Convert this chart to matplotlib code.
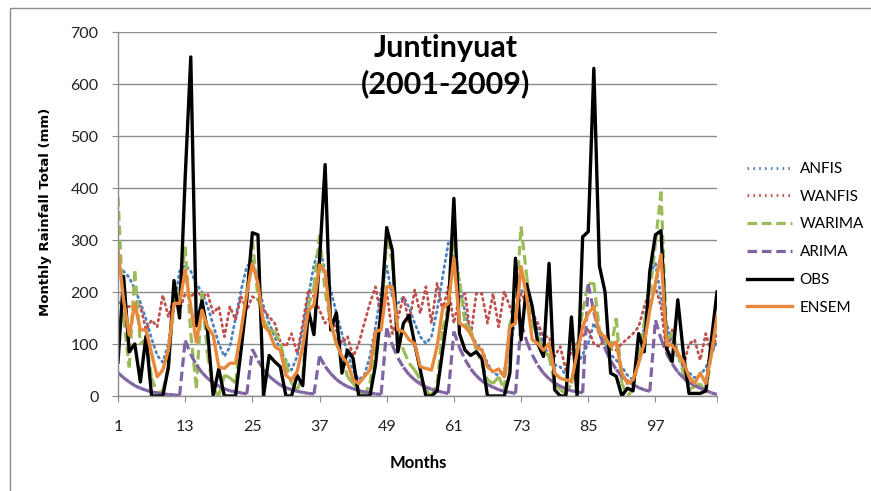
import matplotlib
matplotlib.use("Agg")
import matplotlib.pyplot as plt
import numpy as np
from matplotlib.collections import LineCollection
from matplotlib.lines import Line2D
from matplotlib.patches import Rectangle

plt.rcParams["font.family"] = ["Lato", "DejaVu Sans"]

# Monthly rainfall series, Juntinyuat 2001-2009 (108 months)
months = np.arange(1, 109)

anfis = [245, 240, 228, 205, 180, 148, 110, 78, 65, 100, 170, 240,
         252, 240, 215, 200, 172, 137, 101, 76, 95, 150, 204, 249,
         260, 217, 172, 140, 114, 88, 69, 50, 76, 127, 191, 252,
         287, 240, 204, 160, 120, 82, 50, 31, 40, 76, 133, 200,
         250, 190, 178, 191, 170, 140, 114, 101, 114, 165, 230, 294,
         300, 220, 160, 120, 101, 90, 63, 44, 40, 50, 88, 152,
         204, 190, 160, 130, 100, 76, 60, 56, 40, 31, 60, 80,
         101, 140, 120, 100, 80, 69, 56, 40, 31, 63, 133, 236,
         255, 190, 140, 100, 75, 55, 45, 35, 40, 55, 80, 105]

wanfis = [181, 172, 172, 178, 172, 127, 146, 133, 194, 152, 191, 165,
          197, 190, 204, 191, 197, 159, 172, 114, 172, 146, 191, 165,
          191, 185, 165, 152, 140, 104, 95, 120, 82, 140, 204, 191,
          165, 140, 152, 127, 101, 114, 76, 100, 140, 178, 210, 150,
          200, 120, 150, 191, 140, 204, 159, 210, 140, 217, 165, 210,
          140, 191, 197, 114, 197, 197, 140, 197, 133, 201, 172, 140,
          197, 180, 159, 140, 114, 114, 76, 95, 50, 88, 101, 114,
          130, 100, 95, 110, 90, 88, 101, 110, 120, 133, 172, 204,
          210, 172, 82, 127, 82, 56, 100, 108, 69, 120, 80, 120]

warima = [383, 150, 55, 240, 100, 110, 35, 5, 10, 55, 185, 200,
          287, 120, 15, 200, 80, 15, 0, 40, 35, 25, 120, 200,
          300, 190, 146, 127, 124, 100, 63, 24, 12, 37, 172, 210,
          310, 200, 140, 101, 76, 37, 24, 12, 0, 24, 101, 150,
          300, 260, 120, 88, 63, 50, 31, 12, 0, 24, 127, 172,
          294, 217, 140, 127, 88, 63, 31, 24, 37, 12, 140, 160,
          326, 230, 140, 114, 88, 76, 24, 12, 5, 24, 88, 165,
          217, 217, 127, 108, 88, 150, 24, 0, 12, 76, 140, 197,
          294, 393, 108, 120, 82, 44, 12, 18, 24, 5, 82, 172]

arima = [45, 35, 27, 20, 15, 11, 8, 6, 4, 3, 2, 1,
         107, 80, 60, 45, 34, 25, 19, 14, 10, 8, 6, 4,
         90, 68, 51, 38, 29, 21, 16, 12, 9, 7, 5, 4,
         76, 57, 43, 32, 24, 18, 14, 10, 8, 6, 4, 3,
         130, 98, 73, 55, 41, 31, 23, 17, 13, 10, 7, 5,
         124, 93, 70, 52, 39, 29, 22, 17, 12, 9, 7, 5,
         140, 105, 79, 59, 44, 33, 25, 19, 14, 10, 8, 6,
         215, 161, 121, 91, 68, 51, 38, 29, 22, 16, 12, 9,
         146, 110, 82, 62, 46, 35, 26, 20, 15, 11, 6, 3]

obs = [65, 230, 85, 100, 27, 115, 0, 0, 0, 55, 222, 150,
       420, 652, 135, 183, 125, 0, 52, 0, 0, 0, 90, 185,
       314, 310, 0, 78, 66, 56, 0, 0, 40, 20, 165, 118,
       262, 445, 127, 160, 44, 88, 72, 0, 0, 0, 60, 165,
       324, 280, 85, 140, 155, 100, 50, 0, 0, 10, 88, 165,
       380, 120, 88, 78, 85, 72, 0, 0, 0, 0, 44, 265,
       108, 215, 172, 100, 76, 255, 12, 0, 0, 152, 0, 306,
       316, 630, 250, 200, 44, 38, 0, 15, 10, 120, 85, 240,
       310, 318, 92, 66, 185, 82, 5, 5, 5, 10, 108, 200]

ensem = [281, 185, 117, 178, 127, 127, 82, 37, 50, 88, 178, 178,
         242, 172, 104, 165, 133, 117, 56, 53, 63, 63, 127, 197,
         255, 217, 136, 124, 95, 88, 40, 31, 47, 95, 165, 175,
         252, 239, 140, 101, 76, 63, 31, 24, 37, 50, 124, 127,
         210, 210, 127, 124, 108, 101, 56, 53, 50, 95, 169, 178,
         265, 140, 133, 120, 95, 88, 56, 47, 52, 37, 133, 140,
         249, 191, 108, 101, 88, 101, 44, 34, 31, 28, 82, 133,
         159, 172, 120, 114, 95, 104, 44, 24, 31, 63, 101, 165,
         217, 272, 98, 98, 82, 66, 37, 24, 44, 24, 82, 153]

c_anfis = "#4F81BD"
c_wanfis = "#C0504D"
c_warima = "#9BBB59"
c_arima = "#8064A2"
c_obs = "#000000"
c_ensem = "#E8883A"

dot_style = (0, (0.6, 1.5))
dash_style = (0, (3.0, 1.5))

fig = plt.figure(figsize=(8.71, 4.91), dpi=100)
ax = fig.add_axes([118 / 871, 1 - 396 / 491, 599 / 871, 364 / 491])

ax.plot(months, anfis, color=c_anfis, lw=2.0, linestyle=dot_style,
        dash_capstyle="round")
ax.plot(months, wanfis, color=c_wanfis, lw=2.0, linestyle=dot_style,
        dash_capstyle="round")


def dashed_segments(y, color):
    # Excel restarts the dash pattern on every segment
    pts = np.column_stack([months, y])
    segs = np.stack([pts[:-1], pts[1:]], axis=1)
    lc = LineCollection(segs, colors=color, linewidths=2.3,
                        linestyles=[dash_style], capstyle="butt")
    ax.add_collection(lc)


dashed_segments(warima, c_warima)
dashed_segments(arima, c_arima)
ax.plot(months, obs, color=c_obs, lw=2.4, solid_joinstyle="round")
ax.plot(months, ensem, color=c_ensem, lw=2.4, solid_joinstyle="round")

ax.set_xlim(1, 108)
ax.set_ylim(0, 700)
ax.set_yticks(np.arange(0, 701, 100))
ax.set_xticks(np.arange(1, 98, 12))
ax.set_xticks([108], minor=True)
ax.grid(True, axis="y", color="#8c8c8c", lw=1.0)
ax.set_axisbelow(True)
for s in ["top", "right"]:
    ax.spines[s].set_visible(False)
for s in ["left", "bottom"]:
    ax.spines[s].set_color("#8c8c8c")
    ax.spines[s].set_linewidth(1.0)
ax.tick_params(axis="both", which="both", color="#8c8c8c", length=4,
               direction="out", labelsize=11.5, labelcolor="#222222")
ax.tick_params(axis="x", pad=13)
ax.tick_params(axis="y", pad=10)

fig.text(446 / 871, 1 - 66 / 491, "Juntinyuat\n(2001-2009)", ha="center",
         va="center", fontsize=22, fontweight="bold", linespacing=1.3)
fig.text(45 / 871, 1 - 212 / 491, "Monthly Rainfall Total (mm)",
         rotation=90, ha="center", va="center", fontsize=9.5,
         fontweight="bold", family="DejaVu Sans")
fig.text(418 / 871, 1 - 463 / 491, "Months", ha="center", va="center",
         fontsize=12, fontweight="bold")

handles = [
    Line2D([], [], color=c_anfis, lw=2.0, linestyle=dot_style),
    Line2D([], [], color=c_wanfis, lw=2.0, linestyle=dot_style),
    Line2D([], [], color=c_warima, lw=2.3, linestyle=dash_style),
    Line2D([], [], color=c_arima, lw=2.3, linestyle=dash_style),
    Line2D([], [], color=c_obs, lw=2.4),
    Line2D([], [], color=c_ensem, lw=2.4),
]
labels = ["ANFIS", "WANFIS", "WARIMA", "ARIMA", "OBS", "ENSEM"]
fig.legend(handles, labels, loc="upper left",
           bbox_to_anchor=(747 / 871, 1 - 162 / 491), frameon=False,
           fontsize=11, handlelength=2.95, handletextpad=0.5,
           labelspacing=0.9, borderpad=0, borderaxespad=0)

fig.patches.append(Rectangle((10 / 871, -0.1), 1.2, 1.1 - 8 / 491,
                             transform=fig.transFigure, fill=False,
                             edgecolor="#8c8c8c", lw=1.0))

fig.savefig("out.png", dpi=100)
